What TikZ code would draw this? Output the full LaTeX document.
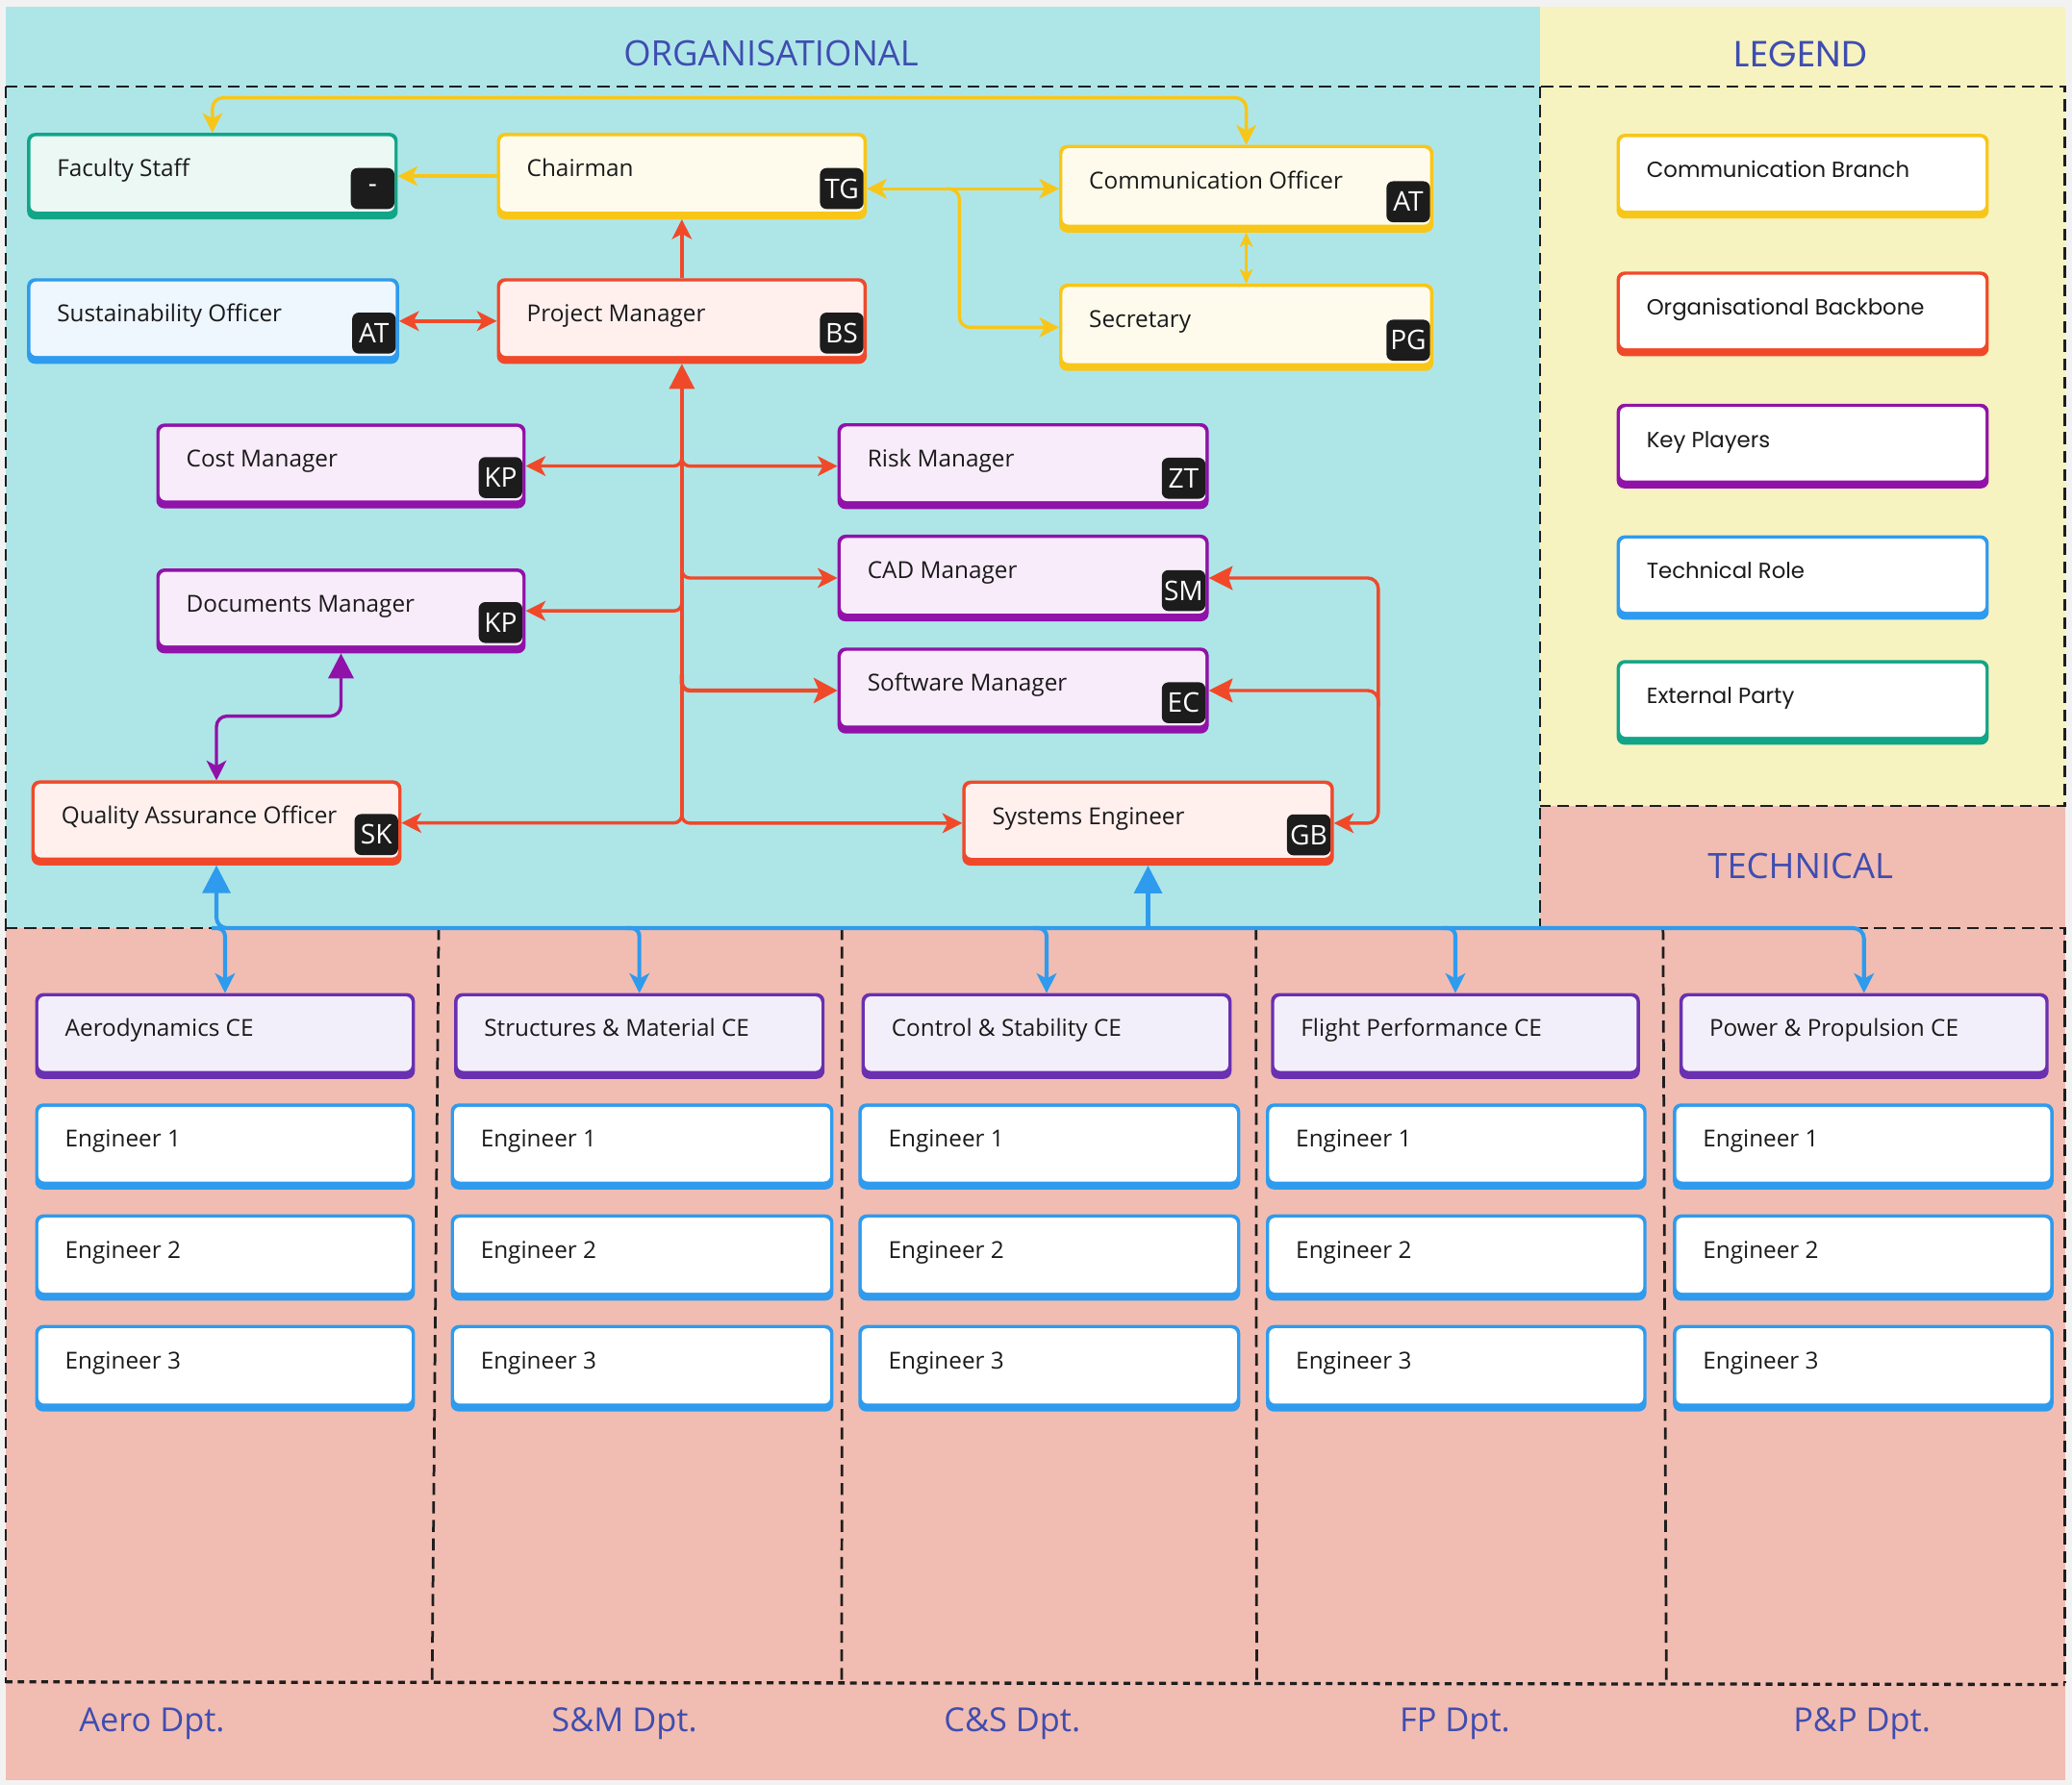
\documentclass[tikz,border=0pt]{standalone}
\usepackage{fontspec}
\setmainfont{Open Sans}
\newfontfamily\legfont{Poppins}
\usetikzlibrary{arrows.meta,fit,calc}
\definecolor{bggray}{HTML}{F2F2F2}
\definecolor{cyanbg}{HTML}{AEE6E8}
\definecolor{yelbg}{HTML}{F7F3C0}
\definecolor{salbg}{HTML}{F1BDB2}
\definecolor{ttl}{HTML}{3F4DB0}
\definecolor{txt}{HTML}{1A1A1A}
\definecolor{cY}{HTML}{F8C618}\definecolor{fY}{HTML}{FFFBEC}
\definecolor{cR}{HTML}{F0492A}\definecolor{fR}{HTML}{FFF0EE}
\definecolor{cP}{HTML}{9112A8}\definecolor{fP}{HTML}{F8EBFA}
\definecolor{cB}{HTML}{2E9BEE}\definecolor{fB}{HTML}{EEF6FE}
\definecolor{cG}{HTML}{12A588}\definecolor{fG}{HTML}{EBF8F4}
\definecolor{cC}{HTML}{6930B0}\definecolor{fC}{HTML}{F3EFFA}
\definecolor{badgebk}{HTML}{1C1C1C}
\definecolor{dashc}{HTML}{1E1E1E}
\tikzset{
  aM/.tip={Stealth[length=15pt,width=15pt,inset=4pt]},
  aT/.tip={Triangle[length=19pt,width=19pt]},
  aS/.tip={Stealth[length=11pt,width=10pt,inset=3pt]},
  boxtext/.style={anchor=base west,inner sep=0pt,text=txt,font=\fontsize{17.7}{20}\selectfont},
  badge/.style={fill=badgebk,rounded corners=5pt,minimum width=33pt,minimum height=31pt,inner sep=1pt,text=white,font=\fontsize{20.5}{20}\selectfont},
  ttlstyle/.style={anchor=base,inner sep=0pt,text=ttl,font=\fontsize{26.5}{28}\selectfont},
  dptstyle/.style={anchor=base,inner sep=0pt,text=ttl,font=\fontsize{25}{27}\selectfont},
  dsh/.style={draw=dashc,line width=2pt,dash pattern=on 9pt off 5pt},
  dsh2/.style={draw=dashc,line width=2.4pt,dash pattern=on 5pt off 4pt},
  ylw/.style={draw=cY,line width=2.5pt},
  rd/.style={draw=cR,line width=2.5pt},
  pu/.style={draw=cP,line width=2.5pt},
  bu/.style={draw=cB,line width=3pt},
}
\newcommand\rbox[8]{%
  \fill[#6,rounded corners=6pt] (#2,#3) rectangle (#4,#5);
  \fill[#7,rounded corners=4.5pt] ($(#2,#3)+(2.5,2.5)$) rectangle ($(#4,#5)+(-2.5,-6)$);
  \node[fit={(#2,#3)(#4,#5)},inner sep=0pt,outer sep=0pt] (#1) {};
  \node[boxtext] (#1-t) at ($(#2,#3)+(22.5,33)$) {#8};
}
\newcommand\badge[2]{\node[badge] (#1-b) at ($(#1.south east)+(-19,-23.3)$) {#2};}
\begin{document}
\begin{tikzpicture}[x=1pt,y=-1pt]
\useasboundingbox (0,0) rectangle (1568,1351);
% backgrounds
\fill[bggray] (0,0) rectangle (1568,1351);
\fill[cyanbg] (4.3,5.3) rectangle (1165.5,702.5);
\fill[yelbg] (1165.5,5.3) rectangle (1563,610);
\fill[salbg] (1165.5,610) rectangle (1563,702.5);
\fill[salbg] (4.3,702.5) rectangle (1563,1347.4);
% dashed frames
\draw[dsh] (4.3,65.5) -- (1562.6,65.5) -- (1562.6,610) -- (1165.5,610);
\draw[dsh] (4.3,65.5) -- (4.3,1274);
\draw[dsh] (1165.5,65.5) -- (1165.5,702.5);
\draw[dsh] (4.3,702.5) -- (1562.6,702.5) -- (1562.6,1274);
\draw[dsh2] (4.3,1273) -- (1562.6,1275);
\draw[dsh] (332,702.5) -- (327,1273);
\draw[dsh] (637.2,702.5) -- (637,1273);
\draw[dsh] (950.5,702.5) -- (951,1274);
\draw[dsh] (1258.5,702.5) -- (1261,1274);
% titles
\node[ttlstyle] (tOrg) at (583.5,49.7) {ORGANISATIONAL};
\node[ttlstyle,font=\legfont\fontsize{27.5}{29}\selectfont] (tLeg) at (1362.6,50.5) {LEGEND};
\node[ttlstyle] (tTech) at (1362.5,664.8) {TECHNICAL};
\node[dptstyle] (d1) at (115,1311) {Aero Dpt.};
\node[dptstyle] (d2) at (472.5,1311) {S\&M Dpt.};
\node[dptstyle] (d3) at (766,1311) {C\&S Dpt.};
\node[dptstyle] (d4) at (1101,1311) {FP Dpt.};
\node[dptstyle] (d5) at (1409,1311) {P\&P Dpt.};
% organisational boxes
\rbox{fac}{20.5}{100.6}{301}{166}{cG}{fG}{Faculty Staff}\badge{fac}{-}
\rbox{chair}{376}{100.6}{656}{166}{cY}{fY}{Chairman}\badge{chair}{TG}
\rbox{com}{801.5}{109.7}{1084.7}{176}{cY}{fY}{Communication Officer}\badge{com}{AT}
\rbox{sec}{801.5}{214.7}{1084.7}{280.8}{cY}{fY}{Secretary}\badge{sec}{PG}
\rbox{sus}{20.5}{210.6}{302}{275.4}{cB}{fB}{Sustainability Officer}\badge{sus}{AT}
\rbox{pm}{376}{210.6}{656}{275.4}{cR}{fR}{Project Manager}\badge{pm}{BS}
\rbox{cost}{118.3}{320.6}{397.8}{384.8}{cP}{fP}{Cost Manager}\badge{cost}{KP}
\rbox{risk}{633.8}{320.3}{914.7}{385.3}{cP}{fP}{Risk Manager}\badge{risk}{ZT}
\rbox{cad}{633.8}{404.7}{914.7}{470.3}{cP}{fP}{CAD Manager}\badge{cad}{SM}
\rbox{sw}{633.8}{490.1}{914.7}{555.2}{cP}{fP}{Software Manager}\badge{sw}{EC}
\rbox{docs}{118.3}{430.3}{397.8}{494.5}{cP}{fP}{Documents Manager}\badge{docs}{KP}
\rbox{qa}{23.8}{590.7}{303.8}{655}{cR}{fR}{Quality Assurance Officer}\badge{qa}{SK}
\rbox{se}{728.2}{590.9}{1009.4}{655.2}{cR}{fR}{Systems Engineer}\badge{se}{GB}
% legend
\rbox{lg1}{1223.4}{101.3}{1505}{165.4}{cY}{white}{\legfont\fontsize{16.6}{19}\selectfont Communication Branch}
\rbox{lg2}{1223.4}{205.5}{1505}{269.6}{cR}{white}{\legfont\fontsize{16.6}{19}\selectfont Organisational Backbone}
\rbox{lg3}{1223.4}{305.6}{1505}{369.7}{cP}{white}{\legfont\fontsize{16.6}{19}\selectfont Key Players}
\rbox{lg4}{1223.4}{405.2}{1505}{469}{cB}{white}{\legfont\fontsize{16.6}{19}\selectfont Technical Role}
\rbox{lg5}{1223.4}{499.6}{1505}{563.7}{cG}{white}{\legfont\fontsize{16.6}{19}\selectfont External Party}
% technical
\rbox{ce1}{26.6}{751.7}{314}{816.6}{cC}{fC}{Aerodynamics CE}
\rbox{ce2}{343.7}{751.7}{624}{816.6}{cC}{fC}{Structures \& Material CE}
\rbox{ce3}{652}{751.7}{932}{816.6}{cC}{fC}{Control \& Stability CE}
\rbox{ce4}{961.8}{751.7}{1241}{816.6}{cC}{fC}{Flight Performance CE}
\rbox{ce5}{1270.9}{751.7}{1550.3}{816.6}{cC}{fC}{Power \& Propulsion CE}
\foreach \c/\xa/\xb in {1/26.6/314,2/341.1/630.7,3/649.6/938.5,4/958/1246,5/1266/1554}{
  \rbox{e\c a}{\xa}{835.2}{\xb}{900.3}{cB}{white}{Engineer 1}
  \rbox{e\c b}{\xa}{919.2}{\xb}{984.4}{cB}{white}{Engineer 2}
  \rbox{e\c c}{\xa}{1002.9}{\xb}{1068.4}{cB}{white}{Engineer 3}
}
% yellow connectors
\coordinate (ytop) at (0,74);
\draw[ylw,aM-aM,rounded corners=8pt] (fac.north) -- (fac.north |- ytop) -- (com.north |- ytop) -- (com.north);
\draw[ylw,-aM] (chair.west) -- (fac.east);
\draw[ylw,aM-aM] (chair.east |- com.west) -- (com.west);
\coordinate (yb) at (726,0);
\draw[ylw,-aM,rounded corners=8pt] ($(yb |- com.west)+(-10,0)$) -| (yb |- sec.west) -- (sec.west);
\draw[ylw,aS-aS] (com.south) -- (sec.north);
% red connectors
\draw[rd,-aM] (pm.north) -- (chair.south);
\draw[rd,aM-aM] (sus.east) -- (pm.west);
\draw[rd,aT-] (pm.south) -- ($(pm.south |- qa.east)+(0,-6)$);
\draw[rd,-aM,rounded corners=6pt] ($(pm.south |- cost.east)+(0,-12)$) |- (cost.east);
\draw[rd,-aM,rounded corners=6pt] ($(pm.south |- risk.west)+(0,-12)$) |- (risk.west);
\draw[rd,-aM,rounded corners=6pt] ($(pm.south |- cad.west)+(0,-12)$) |- (cad.west);
\draw[rd,-aM,rounded corners=6pt] ($(pm.south |- docs.east)+(0,-12)$) |- (docs.east);
\draw[rd,line width=3.2pt,-{Stealth[length=18pt,width=19pt,inset=4pt]},rounded corners=6pt] ($(pm.south |- sw.west)+(0,-12)$) |- (sw.west);
\draw[rd,-aM,rounded corners=6pt] ($(pm.south |- qa.east)+(0,-12)$) |- (qa.east);
\draw[rd,-aM,rounded corners=6pt] ($(pm.south |- se.west)+(0,-12)$) |- (se.west);
\coordinate (rx) at (1043,0);
\draw[rd,aM-{Stealth[length=18pt,width=18pt,inset=3pt]},rounded corners=8pt] (se.east) -| (rx |- cad.east) -- (cad.east);
\draw[rd,-{Stealth[length=18pt,width=18pt,inset=3pt]},rounded corners=8pt] ($(rx |- sw.east)+(0,12)$) |- (sw.east);
% purple connector
\coordinate (pp1) at (0,542);
\draw[pu,aT-aM,rounded corners=8pt] (docs.south) -- (docs.south |- pp1) -| (qa.north);
% blue connectors
\coordinate (bl) at (0,702.5);
\draw[bu,{Triangle[length=21pt,width=21pt]}-aM,rounded corners=8pt] (qa.south) |- (ce5.north |- bl) -- (ce5.north);
\foreach \n in {ce1,ce2,ce3,ce4}{
  \draw[bu,-aM,rounded corners=6pt] ($(\n.north |- bl)+(-10,0)$) -| (\n.north);
}
\draw[bu,{Triangle[length=21pt,width=21pt]}-] (se.south) -- (se.south |- bl);
\end{tikzpicture}
\end{document}
